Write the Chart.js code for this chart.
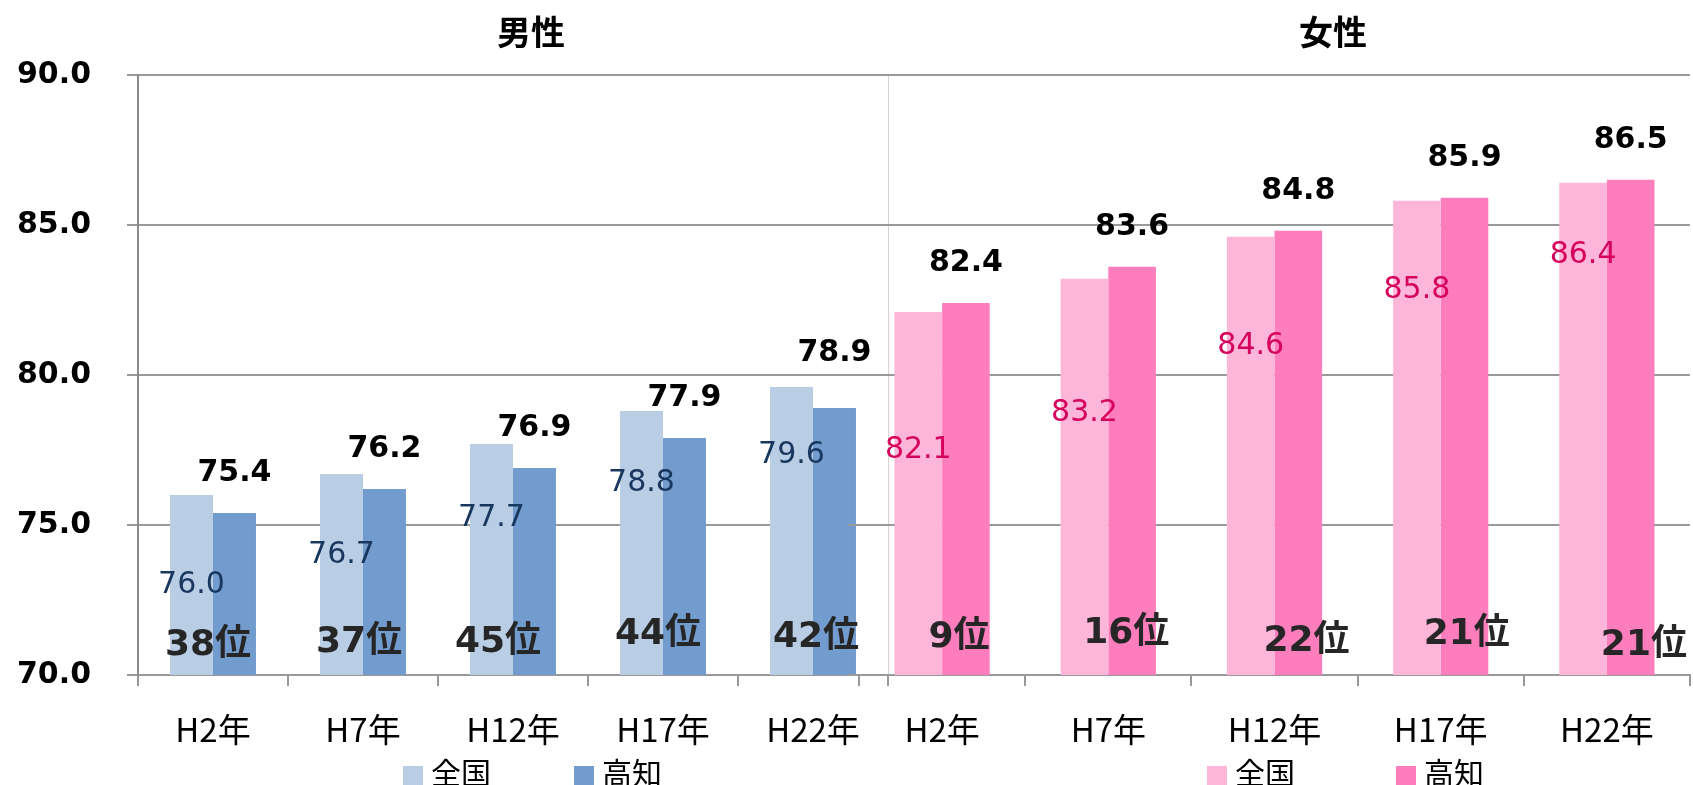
<!DOCTYPE html>
<html lang="ja">
<head>
<meta charset="utf-8">
<title>平均寿命の推移</title>
<script src="https://cdn.jsdelivr.net/npm/chart.js@4.4.1/dist/chart.umd.min.js"></script>
<style>
  html, body { margin: 0; padding: 0; background: #fff; }
  body { width: 1693px; height: 785px; overflow: hidden; position: relative; }
  canvas { position: absolute; top: 0; }
  #male { left: 0; }
  #female { left: 789px; }
  .legend { position: absolute; top: 756px; display: flex; font: 30px/30px "Noto Sans CJK JP", sans-serif; color: #000; }
  .legend .item { display: flex; align-items: flex-start; }
  .legend i { width: 20px; height: 20px; margin: 10px 8px 0 0; }
</style>
</head>
<body>
<canvas id="male" width="1062" height="785"></canvas>
<canvas id="female" width="1088" height="785"></canvas>
<script>
// data
const years = ["H2年", "H7年", "H12年", "H17年", "H22年"];
const yTicks = [70, 75, 80, 85, 90];

const maleNational = [76.0, 76.7, 77.7, 78.8, 79.6];
const maleKochi = [75.4, 76.2, 76.9, 77.9, 78.9];
const maleRank = ["38位", "37位", "45位", "44位", "42位"];

const femaleNational = [82.1, 83.2, 84.6, 85.8, 86.4];
const femaleKochi = [82.4, 83.6, 84.8, 85.9, 86.5];
const femaleRank = ["9位", "16位", "22位", "21位", "21位"];

// where the hand-placed labels sit (in axis units), and label nudges (px)
const maleNationalAt = [73.0, 74.0, 75.22, 76.4, 77.33];
const femaleNationalAt = [77.5, 78.72, 80.96, 82.82, 84.0];
const maleRankAt = [70.98, 71.08, 71.08, 71.33, 71.26];
const femaleRankAt = [71.26, 71.37, 71.12, 71.33, 70.98];
const maleRankShift = [-5, -4, -15, -5, 3];
const femaleRankShift = [17, 18, 32, 26, 37];
const maleKochiLift = [0, 0, 0, 0, 15];
const femaleKochiLift = [0, 0, 0, 0, 0];

const barText = {
  id: "barText",
  afterDatasetsDraw(chart, args, opts) {
    const ctx = chart.ctx;
    const y = chart.scales.y;
    const nat = chart.getDatasetMeta(0).data;
    const kochi = chart.getDatasetMeta(1).data;
    ctx.save();
    ctx.textAlign = "center";
    ctx.textBaseline = "middle";
    kochi.forEach((bar, i) => {
      ctx.font = "bold 30px 'DejaVu Sans'";
      ctx.fillStyle = "#000";
      ctx.fillText(chart.data.datasets[1].data[i].toFixed(1), bar.x, bar.y - 40 - opts.kochiLift[i]);
    });
    nat.forEach((bar, i) => {
      ctx.font = "30px 'DejaVu Sans'";
      ctx.fillStyle = opts.color;
      ctx.fillText(chart.data.datasets[0].data[i].toFixed(1), bar.x, y.getPixelForValue(opts.nationalAt[i]));

      ctx.font = "bold 36px 'DejaVu Sans', 'Noto Sans CJK JP'";
      ctx.fillStyle = "#262626";
      const mid = (bar.x + kochi[i].x) / 2 + opts.rankShift[i];
      ctx.fillText(opts.ranks[i], mid, y.getPixelForValue(opts.rankAt[i]));
    });
    ctx.restore();
  }
};

function makeChart(id, title, national, kochi, colors, labels, yWidth, rightWidth, isLeft) {
  const scales = {
    x: {
      grid: {drawOnChartArea: false, tickLength: 11, color: "#999", lineWidth: 2},
      border: {color: "#999", width: 2},
      ticks: {color: "#000", padding: 24, font: {family: "'Noto Sans CJK JP'", size: 33}},
      afterFit(s) { s.height = 110; }
    },
    y: {
      min: 70,
      max: 90,
      afterBuildTicks(s) { s.ticks = yTicks.map(v => ({value: v})); },
      grid: {color: "#999", lineWidth: 2, tickLength: 11},
      border: {display: isLeft, color: "#8c8c8c", width: 2},
      ticks: {
        display: isLeft,
        padding: 36,
        color: "#000",
        font: {family: "'DejaVu Sans'", size: 30, weight: "bold"},
        callback: v => v.toFixed(1)
      },
      afterFit(s) { s.width = yWidth; }
    },
    // right-hand spacer; on the men's chart it also draws the thin divider
    yr: {
      position: "right",
      min: 70,
      max: 90,
      grid: {display: false},
      ticks: {display: false},
      border: {display: isLeft, color: "#d4d4d4", width: 1},
      afterFit(s) { s.width = rightWidth; }
    }
  };

  return new Chart(document.getElementById(id), {
    type: "bar",
    data: {
      labels: years,
      datasets: [{
        label: "全国",
        data: national,
        backgroundColor: colors[0],
        yAxisID: "y",
        categoryPercentage: 0.573,
        barPercentage: 1
      }, {
        label: "高知",
        data: kochi,
        backgroundColor: colors[1],
        yAxisID: "y",
        categoryPercentage: 0.573,
        barPercentage: 1
      }]
    },
    options: {
      responsive: false,
      animation: false,
      layout: {padding: 0},
      plugins: {
        legend: {display: false},
        tooltip: {enabled: false},
        title: {
          display: true,
          text: title,
          color: "#000",
          font: {family: "'Noto Sans CJK JP'", size: 34, weight: "bold"},
          padding: {top: 12, bottom: 22}
        },
        barText: labels
      },
      scales: scales
    },
    plugins: [barText]
  });
}

function htmlLegend(chart, left, gap) {
  const box = document.createElement("div");
  box.className = "legend";
  box.style.left = left + "px";
  box.style.gap = gap + "px";
  chart.data.datasets.forEach(ds => {
    const item = document.createElement("span");
    item.className = "item";
    const sw = document.createElement("i");
    sw.style.background = ds.backgroundColor;
    item.appendChild(sw);
    item.appendChild(document.createTextNode(ds.label));
    box.appendChild(item);
  });
  document.body.appendChild(box);
}

const male = makeChart("male", "男性", maleNational, maleKochi, ["#b9cde5", "#739cce"], {
  color: "#17375e",
  nationalAt: maleNationalAt,
  ranks: maleRank,
  rankAt: maleRankAt,
  rankShift: maleRankShift,
  kochiLift: maleKochiLift
}, 138, 174, true);

const female = makeChart("female", "女性", femaleNational, femaleKochi, ["#fdb5da", "#fe7dbd"], {
  color: "#d6005d",
  nationalAt: femaleNationalAt,
  ranks: femaleRank,
  rankAt: femaleRankAt,
  rankShift: femaleRankShift,
  kochiLift: femaleKochiLift
}, 70, 187, false);

htmlLegend(male, 403, 83);
htmlLegend(female, 1207, 101);
</script>
</body>
</html>
